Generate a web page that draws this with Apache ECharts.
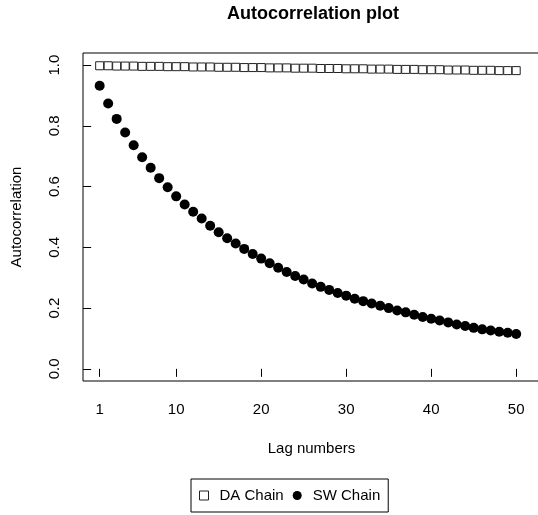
<!DOCTYPE html>
<html>
<head>
<meta charset="utf-8">
<script src="https://cdn.jsdelivr.net/npm/echarts@6/dist/echarts.min.js"></script>
<style>
html,body{margin:0;padding:0;background:#fff;}
#c{width:538px;height:515px;}
</style>
</head>
<body>
<div id="c"></div>
<script>
// ---- data ----
var lags = [];
for (var i = 1; i <= 50; i++) lags.push(i);
var daChain = [0.998,0.998,0.997,0.997,0.997,0.996,0.996,0.996,0.995,0.995,
               0.995,0.994,0.994,0.994,0.993,0.993,0.993,0.992,0.992,0.992,
               0.991,0.991,0.991,0.990,0.990,0.990,0.989,0.989,0.989,0.988,
               0.988,0.988,0.987,0.987,0.987,0.986,0.986,0.986,0.985,0.985,
               0.985,0.984,0.984,0.984,0.983,0.983,0.983,0.982,0.982,0.982];
var swChain = [0.932,0.874,0.823,0.778,0.736,0.697,0.662,0.628,0.598,0.568,
               0.541,0.517,0.495,0.471,0.450,0.430,0.413,0.395,0.378,0.363,
               0.348,0.333,0.319,0.306,0.294,0.281,0.270,0.260,0.250,0.241,
               0.231,0.223,0.215,0.208,0.200,0.192,0.186,0.178,0.171,0.165,
               0.159,0.153,0.146,0.141,0.135,0.130,0.126,0.122,0.119,0.115];
var xTicks = [1, 10, 20, 30, 40, 50];
var yTicks = [0, 0.2, 0.4, 0.6, 0.8, 1.0];

var FONT = "'Liberation Sans', Arial, Helvetica, sans-serif";
function pairs(xs, ys){ return xs.map(function(x,i){ return [x, ys[i]]; }); }

var chart = echarts.init(document.getElementById('c'), null, {renderer:'canvas'});
chart.setOption({
  animation: false,
  backgroundColor: '#fff',
  textStyle: {fontFamily: FONT},
  title: {
    text: 'Autocorrelation plot',
    left: 227, top: 5, padding: 0,
    textStyle: {fontFamily: FONT, fontSize: 18, fontWeight: 'bold', color: '#000'}
  },
  grid: {
    left: 83, top: 53, width: 457, height: 328,
    show: true, borderColor: '#000', borderWidth: 1, backgroundColor: 'transparent',
    containLabel: false, outerBoundsMode: 'none'
  },
  xAxis: {
    type: 'value', min: -0.96, max: 52.8,
    name: 'Lag numbers', nameLocation: 'middle', nameGap: 60,
    nameTextStyle: {fontFamily: FONT, fontSize: 15, color: '#000'},
    axisLine: {show: false},
    splitLine: {show: false},
    axisTick: {show: true, inside: false, length: 8, customValues: xTicks, lineStyle: {color: '#000', width: 1}},
    axisLabel: {show: true, customValues: xTicks, margin: 21, fontFamily: FONT, fontSize: 15, color: '#000'}
  },
  yAxis: {
    type: 'value', min: -0.04, max: 1.04,
    name: 'Autocorrelation', nameLocation: 'middle', nameGap: 59,
    nameTextStyle: {fontFamily: FONT, fontSize: 15, color: '#000'},
    axisLine: {show: false},
    splitLine: {show: false},
    axisTick: {show: true, inside: false, length: 8, customValues: yTicks, lineStyle: {color: '#000', width: 1}},
    axisLabel: {show: true, customValues: yTicks, rotate: 90, margin: 21, fontFamily: FONT, fontSize: 15, color: '#000',
      formatter: function(v){ return v.toFixed(1); }}
  },
  legend: {
    left: 191, top: 479,
    orient: 'horizontal',
    borderColor: '#000', borderWidth: 1, borderRadius: 0,
    padding: [9, 8, 9, 8],
    itemGap: 9, itemWidth: 9, itemHeight: 9,
    textStyle: {fontFamily: FONT, fontSize: 15, color: '#000', padding: [0,0,0,6]},
    data: [
      {name: 'DA Chain', icon: 'rect', itemStyle: {color: '#fff', borderColor: '#222', borderWidth: 1}},
      {name: 'SW Chain', icon: 'circle', itemStyle: {color: '#000', opacity: 1}}
    ]
  },
  series: [
    {
      name: 'DA Chain', type: 'scatter', data: pairs(lags, daChain),
      symbol: 'rect', symbolSize: 8,
      itemStyle: {color: '#fff', borderColor: '#222', borderWidth: 1, opacity: 1}
    },
    {
      name: 'SW Chain', type: 'scatter', data: pairs(lags, swChain),
      symbol: 'circle', symbolSize: 10,
      itemStyle: {color: '#000', opacity: 1}
    }
  ]
});
</script>
</body>
</html>
